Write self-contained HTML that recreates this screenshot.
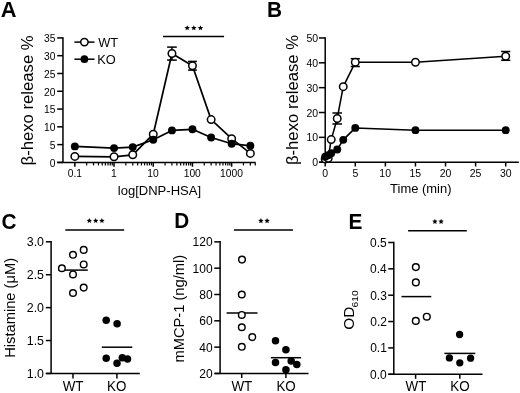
<!DOCTYPE html>
<html><head><meta charset="utf-8"><style>
html,body{margin:0;padding:0;background:#fff;}
svg{display:block;filter:grayscale(1);}
text{font-family:"Liberation Sans", sans-serif;fill:#000;stroke:none;}
</style></head><body>
<svg width="520" height="393" viewBox="0 0 520 393">
<rect width="520" height="393" fill="#fff"/>
<g stroke="#000" fill="none" stroke-linecap="butt">
<text transform="translate(0.86,16.80) scale(1.05,1.03)" font-size="20.8" text-anchor="start" font-weight="bold">A</text>
<text transform="translate(267.11,16.80) scale(1.0,1.03)" font-size="20.8" text-anchor="start" font-weight="bold">B</text>
<text transform="translate(1.55,228.50) scale(1.0,1.03)" font-size="20.8" text-anchor="start" font-weight="bold">C</text>
<text transform="translate(174.21,228.40) scale(1.0,1.03)" font-size="20.8" text-anchor="start" font-weight="bold">D</text>
<text transform="translate(348.51,228.50) scale(1.0,1.03)" font-size="20.8" text-anchor="start" font-weight="bold">E</text>
<line x1="62.95" y1="37.16" x2="62.95" y2="162.40" stroke-width="1.5"/>
<line x1="57.20" y1="162.40" x2="255.60" y2="162.40" stroke-width="1.5"/>
<line x1="57.20" y1="162.40" x2="62.95" y2="162.40" stroke-width="1.5"/>
<text transform="translate(49.77,166.80) scale(1.0,1.04)" font-size="10.3" text-anchor="start">0</text>
<line x1="57.20" y1="144.62" x2="62.95" y2="144.62" stroke-width="1.5"/>
<text transform="translate(49.80,149.02) scale(1.0,1.04)" font-size="10.3" text-anchor="start">5</text>
<line x1="57.20" y1="126.83" x2="62.95" y2="126.83" stroke-width="1.5"/>
<text transform="translate(44.05,131.23) scale(1.0,1.04)" font-size="10.3" text-anchor="start">10</text>
<line x1="57.20" y1="109.05" x2="62.95" y2="109.05" stroke-width="1.5"/>
<text transform="translate(44.08,113.45) scale(1.0,1.04)" font-size="10.3" text-anchor="start">15</text>
<line x1="57.20" y1="91.26" x2="62.95" y2="91.26" stroke-width="1.5"/>
<text transform="translate(44.05,95.66) scale(1.0,1.04)" font-size="10.3" text-anchor="start">20</text>
<line x1="57.20" y1="73.48" x2="62.95" y2="73.48" stroke-width="1.5"/>
<text transform="translate(44.08,77.88) scale(1.0,1.04)" font-size="10.3" text-anchor="start">25</text>
<line x1="57.20" y1="55.69" x2="62.95" y2="55.69" stroke-width="1.5"/>
<text transform="translate(44.05,60.09) scale(1.0,1.04)" font-size="10.3" text-anchor="start">30</text>
<line x1="57.20" y1="37.91" x2="62.95" y2="37.91" stroke-width="1.5"/>
<text transform="translate(44.08,42.30) scale(1.0,1.04)" font-size="10.3" text-anchor="start">35</text>
<line x1="74.85" y1="162.40" x2="74.85" y2="166.70" stroke-width="1.5"/>
<text transform="translate(67.74,177.20) scale(1.0,1.04)" font-size="10.3" text-anchor="start">0.1</text>
<line x1="114.05" y1="162.40" x2="114.05" y2="166.70" stroke-width="1.5"/>
<text transform="translate(111.04,177.20) scale(1.0,1.04)" font-size="10.3" text-anchor="start">1</text>
<line x1="153.25" y1="162.40" x2="153.25" y2="166.70" stroke-width="1.5"/>
<text transform="translate(147.33,177.20) scale(1.0,1.04)" font-size="10.3" text-anchor="start">10</text>
<line x1="192.45" y1="162.40" x2="192.45" y2="166.70" stroke-width="1.5"/>
<text transform="translate(183.67,177.20) scale(1.0,1.04)" font-size="10.3" text-anchor="start">100</text>
<line x1="231.65" y1="162.40" x2="231.65" y2="166.70" stroke-width="1.5"/>
<text transform="translate(220.00,177.20) scale(1.0,1.04)" font-size="10.3" text-anchor="start">1000</text>
<line x1="86.65" y1="162.40" x2="86.65" y2="165.40" stroke-width="1.2"/>
<line x1="93.55" y1="162.40" x2="93.55" y2="165.40" stroke-width="1.2"/>
<line x1="98.45" y1="162.40" x2="98.45" y2="165.40" stroke-width="1.2"/>
<line x1="102.25" y1="162.40" x2="102.25" y2="165.40" stroke-width="1.2"/>
<line x1="105.35" y1="162.40" x2="105.35" y2="165.40" stroke-width="1.2"/>
<line x1="107.98" y1="162.40" x2="107.98" y2="165.40" stroke-width="1.2"/>
<line x1="110.25" y1="162.40" x2="110.25" y2="165.40" stroke-width="1.2"/>
<line x1="112.26" y1="162.40" x2="112.26" y2="165.40" stroke-width="1.2"/>
<line x1="125.85" y1="162.40" x2="125.85" y2="165.40" stroke-width="1.2"/>
<line x1="132.75" y1="162.40" x2="132.75" y2="165.40" stroke-width="1.2"/>
<line x1="137.65" y1="162.40" x2="137.65" y2="165.40" stroke-width="1.2"/>
<line x1="141.45" y1="162.40" x2="141.45" y2="165.40" stroke-width="1.2"/>
<line x1="144.55" y1="162.40" x2="144.55" y2="165.40" stroke-width="1.2"/>
<line x1="147.18" y1="162.40" x2="147.18" y2="165.40" stroke-width="1.2"/>
<line x1="149.45" y1="162.40" x2="149.45" y2="165.40" stroke-width="1.2"/>
<line x1="151.46" y1="162.40" x2="151.46" y2="165.40" stroke-width="1.2"/>
<line x1="165.05" y1="162.40" x2="165.05" y2="165.40" stroke-width="1.2"/>
<line x1="171.95" y1="162.40" x2="171.95" y2="165.40" stroke-width="1.2"/>
<line x1="176.85" y1="162.40" x2="176.85" y2="165.40" stroke-width="1.2"/>
<line x1="180.65" y1="162.40" x2="180.65" y2="165.40" stroke-width="1.2"/>
<line x1="183.75" y1="162.40" x2="183.75" y2="165.40" stroke-width="1.2"/>
<line x1="186.38" y1="162.40" x2="186.38" y2="165.40" stroke-width="1.2"/>
<line x1="188.65" y1="162.40" x2="188.65" y2="165.40" stroke-width="1.2"/>
<line x1="190.66" y1="162.40" x2="190.66" y2="165.40" stroke-width="1.2"/>
<line x1="204.25" y1="162.40" x2="204.25" y2="165.40" stroke-width="1.2"/>
<line x1="211.15" y1="162.40" x2="211.15" y2="165.40" stroke-width="1.2"/>
<line x1="216.05" y1="162.40" x2="216.05" y2="165.40" stroke-width="1.2"/>
<line x1="219.85" y1="162.40" x2="219.85" y2="165.40" stroke-width="1.2"/>
<line x1="222.95" y1="162.40" x2="222.95" y2="165.40" stroke-width="1.2"/>
<line x1="225.58" y1="162.40" x2="225.58" y2="165.40" stroke-width="1.2"/>
<line x1="227.85" y1="162.40" x2="227.85" y2="165.40" stroke-width="1.2"/>
<line x1="229.86" y1="162.40" x2="229.86" y2="165.40" stroke-width="1.2"/>
<line x1="243.45" y1="162.40" x2="243.45" y2="165.40" stroke-width="1.2"/>
<line x1="250.35" y1="162.40" x2="250.35" y2="165.40" stroke-width="1.2"/>
<line x1="255.25" y1="162.40" x2="255.25" y2="165.40" stroke-width="1.2"/>
<text transform="translate(117.73,195.25)" font-size="13.05" text-anchor="start">log[DNP-HSA]</text>
<text transform="translate(33.30,165.46) rotate(-90) scale(1.0,0.97)" font-size="16.7" text-anchor="start">β-hexo release %</text>
<line x1="74.40" y1="42.10" x2="94.50" y2="42.10" stroke-width="1.5"/>
<circle cx="84.40" cy="42.10" r="3.70" fill="#fff" stroke-width="1.5"/>
<line x1="74.40" y1="59.20" x2="94.50" y2="59.20" stroke-width="1.5"/>
<circle cx="84.40" cy="59.20" r="3.85" fill="#000" stroke="none"/>
<text transform="translate(98.24,46.80) scale(1.0,1.04)" font-size="12.8" text-anchor="start">WT</text>
<text transform="translate(97.25,63.50) scale(1.0,1.04)" font-size="12.8" text-anchor="start">KO</text>
<line x1="163.00" y1="36.40" x2="224.10" y2="36.40" stroke-width="1.5"/>
<polygon points="187.20,25.15 187.96,26.95 189.91,27.12 188.44,28.40 188.88,30.31 187.20,29.30 185.52,30.31 185.96,28.40 184.49,27.12 186.44,26.95" fill="#000" stroke="none"/>
<polygon points="193.80,25.15 194.56,26.95 196.51,27.12 195.04,28.40 195.48,30.31 193.80,29.30 192.12,30.31 192.56,28.40 191.09,27.12 193.04,26.95" fill="#000" stroke="none"/>
<polygon points="200.50,25.15 201.26,26.95 203.21,27.12 201.74,28.40 202.18,30.31 200.50,29.30 198.82,30.31 199.26,28.40 197.79,27.12 199.74,26.95" fill="#000" stroke="none"/>
<line x1="171.95" y1="47.10" x2="171.95" y2="60.10" stroke-width="1.5"/>
<line x1="167.10" y1="47.10" x2="176.80" y2="47.10" stroke-width="1.5"/>
<line x1="167.10" y1="60.10" x2="176.80" y2="60.10" stroke-width="1.5"/>
<line x1="192.45" y1="61.40" x2="192.45" y2="70.10" stroke-width="1.5"/>
<line x1="188.05" y1="61.40" x2="196.85" y2="61.40" stroke-width="1.5"/>
<line x1="188.05" y1="70.10" x2="196.85" y2="70.10" stroke-width="1.5"/>
<polyline points="74.85,156.40 114.05,156.80 132.75,154.80 153.25,134.20 171.95,53.50 192.45,65.80 211.15,119.60 231.65,138.70 250.35,153.40" fill="none" stroke-width="1.7" stroke-linejoin="round"/>
<circle cx="74.85" cy="156.40" r="3.75" fill="#fff" stroke-width="1.5"/>
<circle cx="114.05" cy="156.80" r="3.75" fill="#fff" stroke-width="1.5"/>
<circle cx="132.75" cy="154.80" r="3.75" fill="#fff" stroke-width="1.5"/>
<circle cx="153.25" cy="134.20" r="3.75" fill="#fff" stroke-width="1.5"/>
<circle cx="171.95" cy="53.50" r="3.75" fill="#fff" stroke-width="1.5"/>
<circle cx="192.45" cy="65.80" r="3.75" fill="#fff" stroke-width="1.5"/>
<circle cx="211.15" cy="119.60" r="3.75" fill="#fff" stroke-width="1.5"/>
<circle cx="231.65" cy="138.70" r="3.75" fill="#fff" stroke-width="1.5"/>
<circle cx="250.35" cy="153.40" r="3.75" fill="#fff" stroke-width="1.5"/>
<polyline points="74.85,146.40 114.05,148.10 132.75,147.10 153.25,139.70 171.95,130.40 192.45,129.30 211.15,137.50 231.65,143.70 250.35,145.80" fill="none" stroke-width="1.7" stroke-linejoin="round"/>
<circle cx="74.85" cy="146.40" r="3.95" fill="#000" stroke="none"/>
<circle cx="114.05" cy="148.10" r="3.95" fill="#000" stroke="none"/>
<circle cx="132.75" cy="147.10" r="3.95" fill="#000" stroke="none"/>
<circle cx="153.25" cy="139.70" r="3.95" fill="#000" stroke="none"/>
<circle cx="171.95" cy="130.40" r="3.95" fill="#000" stroke="none"/>
<circle cx="192.45" cy="129.30" r="3.95" fill="#000" stroke="none"/>
<circle cx="211.15" cy="137.50" r="3.95" fill="#000" stroke="none"/>
<circle cx="231.65" cy="143.70" r="3.95" fill="#000" stroke="none"/>
<circle cx="250.35" cy="145.80" r="3.95" fill="#000" stroke="none"/>
<line x1="325.20" y1="37.22" x2="325.20" y2="162.20" stroke-width="1.5"/>
<line x1="319.20" y1="162.20" x2="518.80" y2="162.20" stroke-width="1.5"/>
<line x1="318.90" y1="162.20" x2="325.20" y2="162.20" stroke-width="1.5"/>
<text transform="translate(312.37,166.20) scale(1.0,1.04)" font-size="10.5" text-anchor="start">0</text>
<line x1="318.90" y1="137.35" x2="325.20" y2="137.35" stroke-width="1.5"/>
<text transform="translate(306.53,141.35) scale(1.0,1.04)" font-size="10.5" text-anchor="start">10</text>
<line x1="318.90" y1="112.51" x2="325.20" y2="112.51" stroke-width="1.5"/>
<text transform="translate(306.53,116.51) scale(1.0,1.04)" font-size="10.5" text-anchor="start">20</text>
<line x1="318.90" y1="87.66" x2="325.20" y2="87.66" stroke-width="1.5"/>
<text transform="translate(306.53,91.66) scale(1.0,1.04)" font-size="10.5" text-anchor="start">30</text>
<line x1="318.90" y1="62.82" x2="325.20" y2="62.82" stroke-width="1.5"/>
<text transform="translate(306.53,66.82) scale(1.0,1.04)" font-size="10.5" text-anchor="start">40</text>
<line x1="318.90" y1="37.97" x2="325.20" y2="37.97" stroke-width="1.5"/>
<text transform="translate(306.53,41.97) scale(1.0,1.04)" font-size="10.5" text-anchor="start">50</text>
<line x1="325.20" y1="162.20" x2="325.20" y2="166.50" stroke-width="1.5"/>
<text transform="translate(322.28,176.80) scale(1.0,1.04)" font-size="10.5" text-anchor="start">0</text>
<line x1="355.28" y1="162.20" x2="355.28" y2="166.50" stroke-width="1.5"/>
<text transform="translate(352.38,176.80) scale(1.0,1.04)" font-size="10.5" text-anchor="start">5</text>
<line x1="385.37" y1="162.20" x2="385.37" y2="166.50" stroke-width="1.5"/>
<text transform="translate(379.34,176.80) scale(1.0,1.04)" font-size="10.5" text-anchor="start">10</text>
<line x1="415.45" y1="162.20" x2="415.45" y2="166.50" stroke-width="1.5"/>
<text transform="translate(409.44,176.80) scale(1.0,1.04)" font-size="10.5" text-anchor="start">15</text>
<line x1="445.54" y1="162.20" x2="445.54" y2="166.50" stroke-width="1.5"/>
<text transform="translate(439.64,176.80) scale(1.0,1.04)" font-size="10.5" text-anchor="start">20</text>
<line x1="475.62" y1="162.20" x2="475.62" y2="166.50" stroke-width="1.5"/>
<text transform="translate(469.74,176.80) scale(1.0,1.04)" font-size="10.5" text-anchor="start">25</text>
<line x1="505.71" y1="162.20" x2="505.71" y2="166.50" stroke-width="1.5"/>
<text transform="translate(499.88,176.80) scale(1.0,1.04)" font-size="10.5" text-anchor="start">30</text>
<text transform="translate(390.11,192.50)" font-size="12.95" text-anchor="start">Time (min)</text>
<text transform="translate(297.60,165.06) rotate(-90) scale(1.0,0.97)" font-size="16.7" text-anchor="start">β-hexo release %</text>
<line x1="337.23" y1="113.00" x2="337.23" y2="124.00" stroke-width="1.5"/>
<line x1="332.43" y1="113.00" x2="342.03" y2="113.00" stroke-width="1.5"/>
<line x1="332.43" y1="124.00" x2="342.03" y2="124.00" stroke-width="1.5"/>
<line x1="355.28" y1="58.70" x2="355.28" y2="66.50" stroke-width="1.5"/>
<line x1="350.68" y1="58.70" x2="359.88" y2="58.70" stroke-width="1.5"/>
<line x1="350.68" y1="66.50" x2="359.88" y2="66.50" stroke-width="1.5"/>
<line x1="505.71" y1="51.50" x2="505.71" y2="60.30" stroke-width="1.5"/>
<line x1="501.11" y1="51.50" x2="510.31" y2="51.50" stroke-width="1.5"/>
<line x1="501.11" y1="60.30" x2="510.31" y2="60.30" stroke-width="1.5"/>
<polyline points="325.20,158.97 328.21,158.22 331.22,139.59 337.23,118.47 343.25,86.67 355.28,62.32 415.45,62.20 505.71,56.24" fill="none" stroke-width="1.55" stroke-linejoin="round"/>
<circle cx="325.20" cy="158.97" r="3.75" fill="#fff" stroke-width="1.5"/>
<circle cx="328.21" cy="158.22" r="3.75" fill="#fff" stroke-width="1.5"/>
<circle cx="331.22" cy="139.59" r="3.75" fill="#fff" stroke-width="1.5"/>
<circle cx="337.23" cy="118.47" r="3.75" fill="#fff" stroke-width="1.5"/>
<circle cx="343.25" cy="86.67" r="3.75" fill="#fff" stroke-width="1.5"/>
<circle cx="355.28" cy="62.32" r="3.75" fill="#fff" stroke-width="1.5"/>
<circle cx="415.45" cy="62.20" r="3.75" fill="#fff" stroke-width="1.5"/>
<circle cx="505.71" cy="56.24" r="3.75" fill="#fff" stroke-width="1.5"/>
<polyline points="325.20,156.73 328.21,155.24 331.22,153.26 337.23,149.53 343.25,139.84 355.28,127.91 415.45,130.15 505.71,130.15" fill="none" stroke-width="1.55" stroke-linejoin="round"/>
<circle cx="325.20" cy="156.73" r="3.95" fill="#000" stroke="none"/>
<circle cx="328.21" cy="155.24" r="3.95" fill="#000" stroke="none"/>
<circle cx="331.22" cy="153.26" r="3.95" fill="#000" stroke="none"/>
<circle cx="337.23" cy="149.53" r="3.95" fill="#000" stroke="none"/>
<circle cx="343.25" cy="139.84" r="3.95" fill="#000" stroke="none"/>
<circle cx="355.28" cy="127.91" r="3.95" fill="#000" stroke="none"/>
<circle cx="415.45" cy="130.15" r="3.95" fill="#000" stroke="none"/>
<circle cx="505.71" cy="130.15" r="3.95" fill="#000" stroke="none"/>
<line x1="51.10" y1="241.06" x2="51.10" y2="373.45" stroke-width="1.5"/>
<line x1="45.80" y1="373.45" x2="139.80" y2="373.45" stroke-width="1.5"/>
<line x1="45.85" y1="373.45" x2="51.10" y2="373.45" stroke-width="1.5"/>
<text transform="translate(26.75,377.95) scale(1.0,1.04)" font-size="12.4" text-anchor="start">1.0</text>
<line x1="45.85" y1="340.54" x2="51.10" y2="340.54" stroke-width="1.5"/>
<text transform="translate(26.78,345.04) scale(1.0,1.04)" font-size="12.4" text-anchor="start">1.5</text>
<line x1="45.85" y1="307.63" x2="51.10" y2="307.63" stroke-width="1.5"/>
<text transform="translate(26.75,312.13) scale(1.0,1.04)" font-size="12.4" text-anchor="start">2.0</text>
<line x1="45.85" y1="274.72" x2="51.10" y2="274.72" stroke-width="1.5"/>
<text transform="translate(26.78,279.22) scale(1.0,1.04)" font-size="12.4" text-anchor="start">2.5</text>
<line x1="45.85" y1="241.81" x2="51.10" y2="241.81" stroke-width="1.5"/>
<text transform="translate(26.75,246.31) scale(1.0,1.04)" font-size="12.4" text-anchor="start">3.0</text>
<line x1="73.00" y1="373.45" x2="73.00" y2="378.40" stroke-width="1.5"/>
<line x1="116.90" y1="373.45" x2="116.90" y2="378.40" stroke-width="1.5"/>
<text transform="translate(62.71,390.70) scale(1.0,1.04)" font-size="13.4" text-anchor="start">WT</text>
<text transform="translate(107.09,390.70) scale(1.0,1.04)" font-size="13.4" text-anchor="start">KO</text>
<text transform="translate(14.60,357.81) rotate(-90) scale(1.0,0.97)" font-size="14.7" text-anchor="start">Histamine (μM)</text>
<line x1="65.30" y1="229.90" x2="124.20" y2="229.90" stroke-width="1.5"/>
<polygon points="89.30,217.95 90.06,219.75 92.01,219.92 90.54,221.20 90.98,223.11 89.30,222.10 87.62,223.11 88.06,221.20 86.59,219.92 88.54,219.75" fill="#000" stroke="none"/>
<polygon points="95.70,217.95 96.46,219.75 98.41,219.92 96.94,221.20 97.38,223.11 95.70,222.10 94.02,223.11 94.46,221.20 92.99,219.92 94.94,219.75" fill="#000" stroke="none"/>
<polygon points="101.90,217.95 102.66,219.75 104.61,219.92 103.14,221.20 103.58,223.11 101.90,222.10 100.22,223.11 100.66,221.20 99.19,219.92 101.14,219.75" fill="#000" stroke="none"/>
<line x1="58.40" y1="270.10" x2="87.80" y2="270.10" stroke-width="1.5"/>
<line x1="101.80" y1="347.20" x2="132.30" y2="347.20" stroke-width="1.5"/>
<circle cx="61.90" cy="268.20" r="3.30" fill="#fff" stroke-width="1.45"/>
<circle cx="73.00" cy="254.80" r="3.30" fill="#fff" stroke-width="1.45"/>
<circle cx="83.70" cy="249.90" r="3.30" fill="#fff" stroke-width="1.45"/>
<circle cx="83.70" cy="264.40" r="3.30" fill="#fff" stroke-width="1.45"/>
<circle cx="73.00" cy="274.40" r="3.30" fill="#fff" stroke-width="1.45"/>
<circle cx="83.70" cy="287.60" r="3.30" fill="#fff" stroke-width="1.45"/>
<circle cx="73.00" cy="293.00" r="3.30" fill="#fff" stroke-width="1.45"/>
<circle cx="106.20" cy="320.20" r="3.75" fill="#000" stroke="none"/>
<circle cx="117.10" cy="323.70" r="3.75" fill="#000" stroke="none"/>
<circle cx="106.20" cy="358.30" r="3.75" fill="#000" stroke="none"/>
<circle cx="117.00" cy="363.20" r="3.75" fill="#000" stroke="none"/>
<circle cx="122.30" cy="357.70" r="3.75" fill="#000" stroke="none"/>
<circle cx="127.50" cy="359.00" r="3.75" fill="#000" stroke="none"/>
<line x1="220.10" y1="241.10" x2="220.10" y2="373.45" stroke-width="1.5"/>
<line x1="214.60" y1="373.45" x2="308.50" y2="373.45" stroke-width="1.5"/>
<line x1="214.30" y1="373.45" x2="220.10" y2="373.45" stroke-width="1.5"/>
<text transform="translate(199.22,377.85) scale(1.0,1.04)" font-size="12.0" text-anchor="start">20</text>
<line x1="214.30" y1="347.13" x2="220.10" y2="347.13" stroke-width="1.5"/>
<text transform="translate(199.22,351.53) scale(1.0,1.04)" font-size="12.0" text-anchor="start">40</text>
<line x1="214.30" y1="320.81" x2="220.10" y2="320.81" stroke-width="1.5"/>
<text transform="translate(199.22,325.21) scale(1.0,1.04)" font-size="12.0" text-anchor="start">60</text>
<line x1="214.30" y1="294.49" x2="220.10" y2="294.49" stroke-width="1.5"/>
<text transform="translate(199.22,298.89) scale(1.0,1.04)" font-size="12.0" text-anchor="start">80</text>
<line x1="214.30" y1="268.17" x2="220.10" y2="268.17" stroke-width="1.5"/>
<text transform="translate(192.55,272.57) scale(1.0,1.04)" font-size="12.0" text-anchor="start">100</text>
<line x1="214.30" y1="241.85" x2="220.10" y2="241.85" stroke-width="1.5"/>
<text transform="translate(192.55,246.25) scale(1.0,1.04)" font-size="12.0" text-anchor="start">120</text>
<line x1="241.70" y1="373.45" x2="241.70" y2="378.00" stroke-width="1.5"/>
<line x1="285.90" y1="373.45" x2="285.90" y2="378.00" stroke-width="1.5"/>
<text transform="translate(231.41,390.70) scale(1.0,1.04)" font-size="13.4" text-anchor="start">WT</text>
<text transform="translate(276.39,390.70) scale(1.0,1.04)" font-size="13.4" text-anchor="start">KO</text>
<text transform="translate(184.00,362.58) rotate(-90) scale(1.0,0.97)" font-size="14.7" text-anchor="start">mMCP-1 (ng/ml)</text>
<line x1="233.90" y1="229.90" x2="293.00" y2="229.90" stroke-width="1.5"/>
<polygon points="260.90,218.05 261.66,219.85 263.61,220.02 262.14,221.30 262.58,223.21 260.90,222.20 259.22,223.21 259.66,221.30 258.19,220.02 260.14,219.85" fill="#000" stroke="none"/>
<polygon points="267.10,218.05 267.86,219.85 269.81,220.02 268.34,221.30 268.78,223.21 267.10,222.20 265.42,223.21 265.86,221.30 264.39,220.02 266.34,219.85" fill="#000" stroke="none"/>
<line x1="226.60" y1="313.00" x2="257.50" y2="313.00" stroke-width="1.5"/>
<line x1="270.80" y1="357.70" x2="301.10" y2="357.70" stroke-width="1.5"/>
<circle cx="242.00" cy="259.60" r="3.30" fill="#fff" stroke-width="1.45"/>
<circle cx="241.80" cy="294.50" r="3.30" fill="#fff" stroke-width="1.45"/>
<circle cx="241.80" cy="314.90" r="3.30" fill="#fff" stroke-width="1.45"/>
<circle cx="241.80" cy="327.20" r="3.30" fill="#fff" stroke-width="1.45"/>
<circle cx="252.30" cy="337.10" r="3.30" fill="#fff" stroke-width="1.45"/>
<circle cx="241.80" cy="346.80" r="3.30" fill="#fff" stroke-width="1.45"/>
<circle cx="275.50" cy="340.80" r="3.75" fill="#000" stroke="none"/>
<circle cx="285.90" cy="349.70" r="3.75" fill="#000" stroke="none"/>
<circle cx="275.50" cy="362.40" r="3.75" fill="#000" stroke="none"/>
<circle cx="291.20" cy="360.90" r="3.75" fill="#000" stroke="none"/>
<circle cx="296.80" cy="364.60" r="3.75" fill="#000" stroke="none"/>
<circle cx="285.90" cy="369.80" r="3.75" fill="#000" stroke="none"/>
<line x1="393.80" y1="241.75" x2="393.80" y2="374.25" stroke-width="1.5"/>
<line x1="388.30" y1="374.25" x2="482.50" y2="374.25" stroke-width="1.5"/>
<line x1="388.20" y1="374.25" x2="393.80" y2="374.25" stroke-width="1.5"/>
<text transform="translate(370.09,378.65) scale(1.0,1.04)" font-size="12.0" text-anchor="start">0.0</text>
<line x1="388.20" y1="347.90" x2="393.80" y2="347.90" stroke-width="1.5"/>
<text transform="translate(370.20,352.30) scale(1.0,1.04)" font-size="12.0" text-anchor="start">0.1</text>
<line x1="388.20" y1="321.55" x2="393.80" y2="321.55" stroke-width="1.5"/>
<text transform="translate(370.22,325.95) scale(1.0,1.04)" font-size="12.0" text-anchor="start">0.2</text>
<line x1="388.20" y1="295.20" x2="393.80" y2="295.20" stroke-width="1.5"/>
<text transform="translate(370.15,299.60) scale(1.0,1.04)" font-size="12.0" text-anchor="start">0.3</text>
<line x1="388.20" y1="268.85" x2="393.80" y2="268.85" stroke-width="1.5"/>
<text transform="translate(369.97,273.25) scale(1.0,1.04)" font-size="12.0" text-anchor="start">0.4</text>
<line x1="388.20" y1="242.50" x2="393.80" y2="242.50" stroke-width="1.5"/>
<text transform="translate(370.12,246.90) scale(1.0,1.04)" font-size="12.0" text-anchor="start">0.5</text>
<line x1="415.60" y1="374.25" x2="415.60" y2="378.80" stroke-width="1.5"/>
<line x1="459.80" y1="374.25" x2="459.80" y2="378.80" stroke-width="1.5"/>
<text transform="translate(405.51,390.90) scale(1.0,1.04)" font-size="13.4" text-anchor="start">WT</text>
<text transform="translate(450.29,390.90) scale(1.0,1.04)" font-size="13.4" text-anchor="start">KO</text>
<text transform="translate(354.00,329.73) rotate(-90) scale(1.07,0.97)" font-size="14.4" text-anchor="start">OD</text>
<text transform="translate(358.30,307.42) rotate(-90) scale(1.0,0.97)" font-size="10.2" text-anchor="start">610</text>
<line x1="408.10" y1="230.85" x2="466.80" y2="230.85" stroke-width="1.5"/>
<polygon points="434.90,218.75 435.66,220.55 437.61,220.72 436.14,222.00 436.58,223.91 434.90,222.90 433.22,223.91 433.66,222.00 432.19,220.72 434.14,220.55" fill="#000" stroke="none"/>
<polygon points="441.10,218.75 441.86,220.55 443.81,220.72 442.34,222.00 442.78,223.91 441.10,222.90 439.42,223.91 439.86,222.00 438.39,220.72 440.34,220.55" fill="#000" stroke="none"/>
<line x1="401.50" y1="296.60" x2="431.30" y2="296.60" stroke-width="1.5"/>
<line x1="444.40" y1="353.40" x2="475.30" y2="353.40" stroke-width="1.5"/>
<circle cx="415.85" cy="267.10" r="3.35" fill="#fff" stroke-width="1.45"/>
<circle cx="415.85" cy="282.40" r="3.35" fill="#fff" stroke-width="1.45"/>
<circle cx="415.80" cy="320.90" r="3.35" fill="#fff" stroke-width="1.45"/>
<circle cx="426.80" cy="316.70" r="3.35" fill="#fff" stroke-width="1.45"/>
<circle cx="459.60" cy="334.50" r="3.65" fill="#000" stroke="none"/>
<circle cx="449.40" cy="357.90" r="3.65" fill="#000" stroke="none"/>
<circle cx="459.80" cy="362.80" r="3.65" fill="#000" stroke="none"/>
<circle cx="470.60" cy="358.20" r="3.65" fill="#000" stroke="none"/>
</g></svg></body></html>
